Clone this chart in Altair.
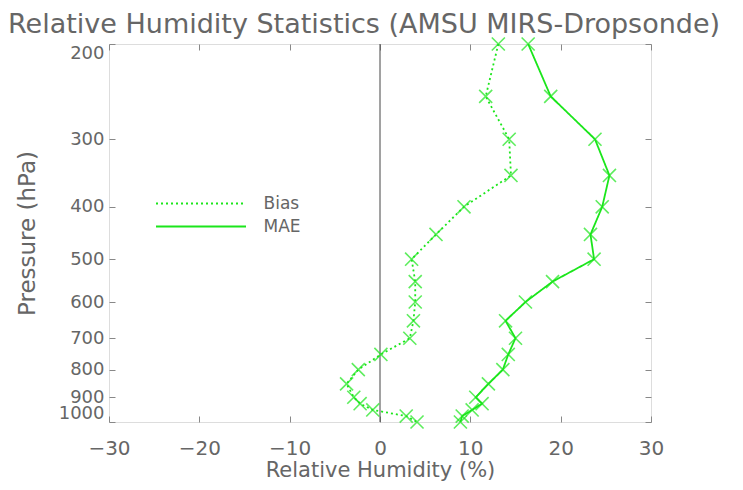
import altair as alt
import pandas as pd

pressure = [200, 250, 300, 350, 400, 450, 500, 550, 600, 650, 700, 750, 800, 850, 900, 925, 950, 975, 1000]
bias = [13.1, 11.7, 14.3, 14.5, 9.3, 6.2, 3.5, 3.9, 3.9, 3.7, 3.3, 0.1, -2.4, -3.7, -2.9, -2.2, -0.8, 2.9, 4.1]
mae = [16.4, 18.9, 23.8, 25.4, 24.6, 23.3, 23.7, 19.1, 16.1, 13.9, 15.0, 14.2, 13.6, 12.0, 10.6, 11.3, 10.2, 9.1, 8.9]
series_names = ["Bias", "MAE"]
x_ticks = [-30, -20, -10, 0, 10, 20, 30]
y_ticks = [200, 300, 400, 500, 600, 700, 800, 900, 1000]
zero_line = [0]

rows = []
for i, p in enumerate(pressure):
    rows.append({"p": p, "rh": bias[i], "series": "Bias", "i": i})
    rows.append({"p": p, "rh": mae[i], "series": "MAE", "i": i})
df = pd.DataFrame(rows)

W, H = 542, 378
LEFT = 101
GREEN = "#1be61b"
TXT = "#666666"
FONT = "DejaVu Sans"
XSHAPE = "M-1,-1L1,1M-1,1L1,-1"
LEGEND_LINE = "M-6,0L6,0"

xscale = alt.Scale(domain=[-30, 30], nice=False, zero=False)
yscale = alt.Scale(type="log", domain=[200, 1000], nice=False, reverse=True)

def tick_axis(orient, offset, values):
    return alt.Axis(orient=orient, offset=offset, values=values, labels=False, domain=False,
                    grid=False, ticks=True, tickSize=6, tickColor="#888888", title=None)

main_x = alt.Axis(values=x_ticks, orient="bottom", ticks=False, domain=False, grid=False,
                  labelFontSize=20, labelColor=TXT, labelFont=FONT, labelPadding=16,
                  labelFlush=False,
                  title="Relative Humidity (%)", titleFontSize=21, titleFont=FONT,
                  titleColor=TXT, titleFontWeight="normal", titlePadding=1)
main_y = alt.Axis(values=y_ticks, orient="left", ticks=False, domain=False, grid=False,
                  labelFontSize=18, labelColor=TXT, labelFont=FONT, labelPadding=5,
                  labelOverlap=False, labelFlush=True, format="d",
                  title="Pressure (hPa)", titleFontSize=23, titleFont=FONT,
                  titleColor=TXT, titleFontWeight="normal", titlePadding=19)

zero = alt.Chart(pd.DataFrame({"x": zero_line})).mark_rule(color="#444444", strokeWidth=1).encode(
    x=alt.X("x:Q", scale=xscale, axis=main_x)
)

lines = alt.Chart(df).mark_line(color=GREEN, strokeWidth=1.8).encode(
    x=alt.X("rh:Q", scale=xscale, axis=tick_axis("bottom", -H, x_ticks)),
    y=alt.Y("p:Q", scale=yscale, axis=main_y),
    strokeDash=alt.StrokeDash("series:N",
                              scale=alt.Scale(domain=series_names, range=[[2, 3], [1, 0]]),
                              legend=alt.Legend(title=None, orient="none", legendX=83.5, legendY=151,
                                                padding=0, symbolType=LEGEND_LINE, symbolSize=225,
                                                symbolStrokeColor=GREEN, symbolStrokeWidth=1.8,
                                                labelFontSize=17, labelFont=FONT, labelColor=TXT,
                                                rowPadding=5, labelOffset=54)),
    order=alt.Order("i:Q"),
)

points = alt.Chart(df).mark_point(shape=XSHAPE, filled=False, size=170, strokeWidth=1.6, color=GREEN).encode(
    x=alt.X("rh:Q", scale=xscale, axis=tick_axis("top", -H, x_ticks)),
    y=alt.Y("p:Q", scale=yscale, axis=tick_axis("right", -W, y_ticks)),
)

ghost = alt.Chart(df).mark_point(opacity=0).encode(
    x=alt.X("rh:Q", scale=xscale, axis=None),
    y=alt.Y("p:Q", scale=yscale, axis=tick_axis("left", -W, y_ticks)),
)

chart = alt.layer(zero, lines, points, ghost).resolve_axis(x="independent", y="independent").properties(
    width=W, height=H,
    autosize=alt.AutoSizeParams(type="none"),
    padding={"left": LEFT, "top": 36, "right": 84, "bottom": 60},
    title=alt.TitleParams("Relative Humidity Statistics (AMSU MIRS-Dropsonde)", anchor="start",
                          frame="group", dx=-LEFT, dy=10, offset=5, fontSize=27, font=FONT,
                          color=TXT, fontWeight="normal"),
).configure_view(stroke="#888888", strokeWidth=1).configure(background="white")

chart.save("out.html", embed_options={"renderer": "svg", "actions": False})
